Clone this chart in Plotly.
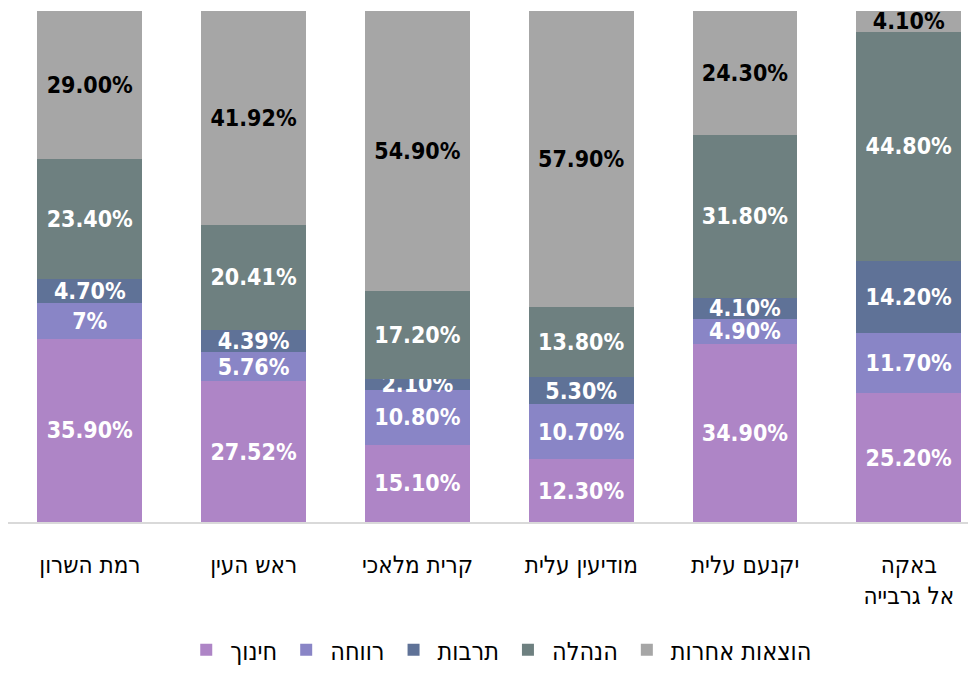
import plotly.graph_objects as go

cities = ["רמת השרון", "ראש העין", "קרית מלאכי", "מודיעין עלית", "יקנעם עלית", "באקה<br>אל גרבייה"]

education = [35.90, 27.52, 15.10, 12.30, 34.90, 25.20]
welfare = [7, 5.76, 10.80, 10.70, 4.90, 11.70]
culture = [4.70, 4.39, 2.10, 5.30, 4.10, 14.20]
management = [23.40, 20.41, 17.20, 13.80, 31.80, 44.80]
other = [29.00, 41.92, 54.90, 57.90, 24.30, 4.10]

series = [
    ("חינוך", education, "#ae85c6", "white"),
    ("רווחה", welfare, "#8985c6", "white"),
    ("תרבות", culture, "#5f7297", "white"),
    ("הנהלה", management, "#6e8080", "white"),
    ("הוצאות אחרות", other, "#a6a6a6", "black"),
]

FONT = "DejaVu Sans Condensed, sans-serif"


def fmt(v):
    if isinstance(v, int):
        return f"{v}%"
    return f"{v:.2f}%"


fig = go.Figure()
for name, values, color, text_color in series:
    fig.add_trace(go.Bar(
        x=list(range(len(cities))),
        y=values,
        name=name,
        marker=dict(color=color, line=dict(width=0)),
        text=[fmt(v) for v in values],
        textposition="inside",
        insidetextanchor="middle",
        textangle=0,
        constraintext="none",
        textfont=dict(family=FONT, size=23, color=text_color, weight="bold"),
        hoverinfo="skip",
    ))

# the page has an 8px body margin, so the figure is kept 8px smaller
fig.update_layout(
    barmode="stack",
    bargap=0.36,
    width=968,
    height=665,
    margin=dict(l=0, r=0, t=3, b=150),
    paper_bgcolor="white",
    plot_bgcolor="white",
    font=dict(family=FONT, size=24, color="black"),
    uniformtext=dict(mode="show", minsize=8),
    legend=dict(
        orientation="h",
        x=0.508,
        xanchor="center",
        y=-0.205,
        yanchor="top",
        traceorder="normal",
        itemwidth=38,
        font=dict(family=FONT, size=25),
    ),
    xaxis=dict(
        tickmode="array",
        tickvals=list(range(len(cities))),
        ticktext=cities,
        range=[-0.5, 5.41],
        automargin=False,
        showline=True,
        linecolor="#d9d9d9",
        linewidth=2,
        showgrid=False,
        ticks="",
        ticklabelstandoff=20,
        tickfont=dict(family=FONT, size=24),
    ),
    yaxis=dict(
        range=[0, 100],
        showgrid=False,
        showticklabels=False,
        zeroline=False,
        showline=False,
    ),
)

fig.write_html("out.html")
